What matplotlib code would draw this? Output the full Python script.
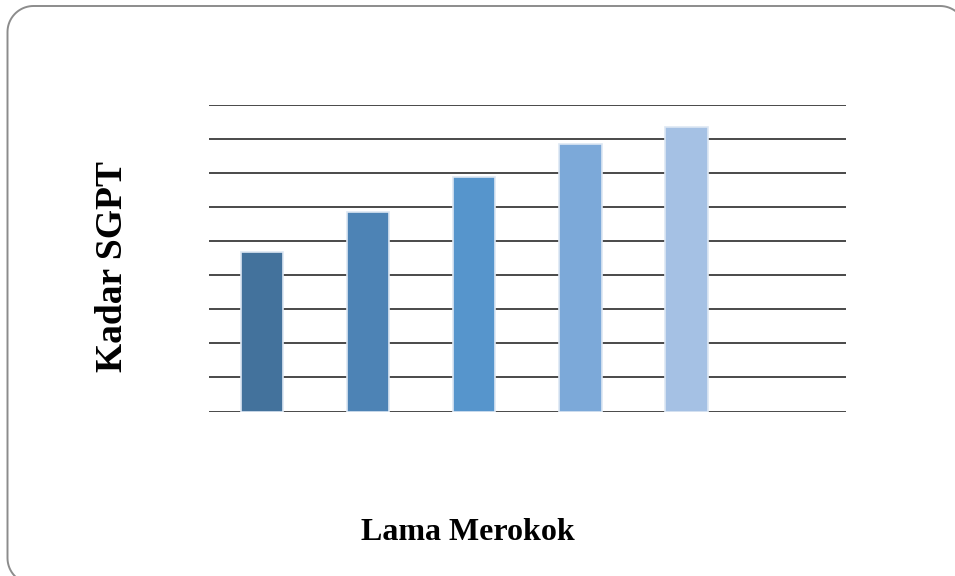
import matplotlib
matplotlib.use("Agg")
import matplotlib.pyplot as plt
import matplotlib.patches as mpatches
from matplotlib.path import Path
from matplotlib.transforms import IdentityTransform
import numpy as np

# data (6 category slots, last one empty)
categories = ["1", "2", "3", "4", "5", ""]
values = [4.69, 5.87, 6.88, 7.85, 8.36]
bar_colors = ["#43729c", "#4d83b5", "#5695cc", "#7ca9d9", "#a5c1e4"]
y_ticks = list(range(0, 10))

plt.rcParams['font.family'] = ['Liberation Serif', 'DejaVu Serif']

fig = plt.figure(figsize=(9.55, 5.76), dpi=100)
ax = fig.add_axes([209/955, 1 - 411.5/576, 636.5/955, 306.5/576])

ax.bar(range(len(values)), values, width=0.4, color=bar_colors,
       edgecolor="#dde7f3", linewidth=1.2, zorder=3)

ax.set_xlim(-0.5, len(categories) - 0.5)
ax.set_ylim(0, 9)
ax.set_yticks(y_ticks)
ax.set_xticks([])
ax.tick_params(left=False, labelleft=False)
ax.grid(axis="y", color="#3a3a3a", linewidth=1.3, zorder=0)
for s in ax.spines.values():
    s.set_visible(False)

fig.text(112/955, 1 - 266.5/576, "Kadar SGPT", rotation=90, ha="center", va="center",
         fontsize=27, fontweight="bold")
fig.text(467.5/955, 1 - 533/576, "Lama Merokok", ha="center", va="center",
         fontsize=23, fontweight="bold")

# rounded frame in pixels, partly cut at the right and bottom
def rounded_rect(x0, y0, x1, y1, r, n=20):
    pts = []
    corners = [(x1 - r, y1 - r, 0), (x0 + r, y1 - r, 90), (x0 + r, y0 + r, 180), (x1 - r, y0 + r, 270)]
    for cx, cy, a0 in corners:
        t = np.radians(np.linspace(a0, a0 + 90, n))
        pts += list(zip(cx + r*np.cos(t), cy + r*np.sin(t)))
    pts.append(pts[0])
    return Path(pts)

frame = mpatches.PathPatch(rounded_rect(7.5, -8, 966, 570, 26), transform=IdentityTransform(),
                           facecolor="none", edgecolor="#8c8c8c", linewidth=1.4)
fig.patches.append(frame)

fig.savefig("out.png", dpi=100)
